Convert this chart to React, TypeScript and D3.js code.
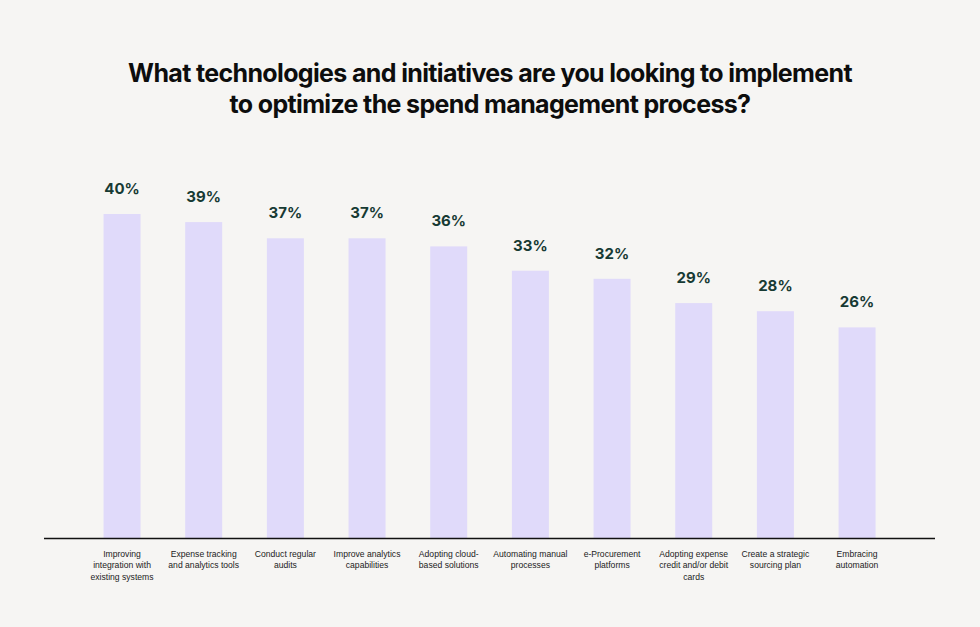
import React from "react";
import * as d3 from "d3";

const categories: string[][] = [
  ["Improving", "integration with", "existing systems"],
  ["Expense tracking", "and analytics tools"],
  ["Conduct regular", "audits"],
  ["Improve analytics", "capabilities"],
  ["Adopting cloud-", "based solutions"],
  ["Automating manual", "processes"],
  ["e-Procurement", "platforms"],
  ["Adopting expense", "credit and/or debit", "cards"],
  ["Create a strategic", "sourcing plan"],
  ["Embracing", "automation"],
];
const values: number[] = [40, 39, 37, 37, 36, 33, 32, 29, 28, 26];
const titleLines: string[] = [
  "What technologies and initiatives are you looking to implement",
  "to optimize the spend management process?",
];

const W = 980;
const H = 627;

export default function App() {
  const keys = categories.map((_, i) => String(i));
  const x = d3
    .scaleBand<string>()
    .domain(keys)
    .range([81.2, 897.9])
    .paddingInner(0.547)
    .paddingOuter(0.2735);
  const y = d3.scaleLinear().domain([0, 40]).range([538, 214]);

  return (
    <svg
      width={W}
      height={H}
      style={{ position: "absolute", left: 0, top: 0, display: "block" }}
    >
      <rect x={0} y={0} width={W} height={H} fill="#f6f5f3" />
      {titleLines.map((t, i) => (
        <text
          key={i}
          x={490}
          y={81.5 + i * 31}
          textAnchor="middle"
          fontFamily="Inter, 'Liberation Sans', sans-serif"
          fontWeight={700}
          fontSize={25}
          letterSpacing={-0.65}
          fill="#0d0d0d"
        >
          {t}
        </text>
      ))}
      {values.map((v, i) => {
        const k = keys[i];
        const bx = x(k)!;
        const bw = x.bandwidth();
        return (
          <g key={k}>
            <rect x={bx} y={y(v)} width={bw} height={y(0) - y(v)} fill="#e0dafa" />
            <text
              x={bx + bw / 2}
              y={y(v) - 20}
              textAnchor="middle"
              fontFamily="Inter, 'Liberation Sans', sans-serif"
              fontWeight={700}
              fontSize={15}
              fill="#173a33"
            >
              {v}%
            </text>
            {categories[i].map((line, j) => (
              <text
                key={j}
                x={bx + bw / 2}
                y={556.5 + j * 11.5}
                textAnchor="middle"
                fontFamily="'Liberation Sans', Arial, sans-serif"
                fontSize={8.6}
                fill="#222"
              >
                {line}
              </text>
            ))}
          </g>
        );
      })}
      <line x1={44} x2={935} y1={538.5} y2={538.5} stroke="#111" strokeWidth={1.3} />
    </svg>
  );
}
